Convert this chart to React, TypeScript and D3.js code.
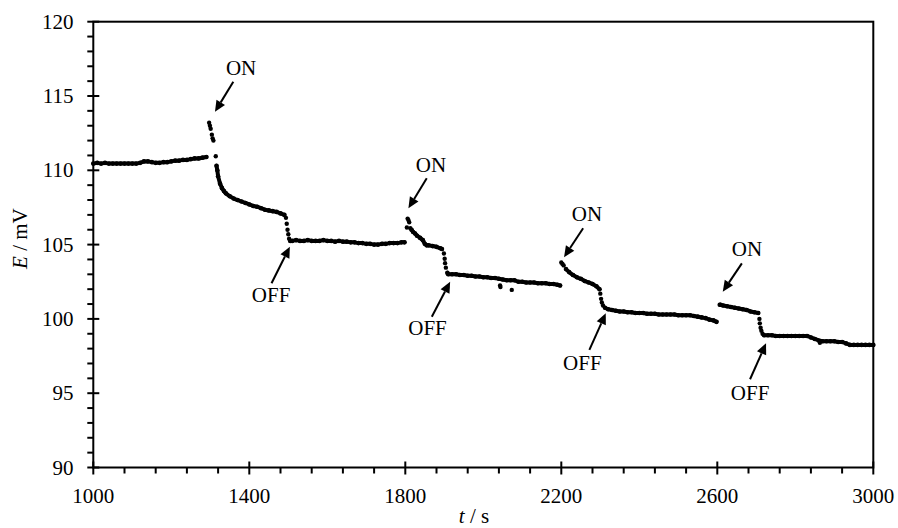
import React from "react";
import * as d3 from "d3";

// Dense measured segments [t (s), E (mV)]
const segA: [number, number][] = [
  [1000, 110.45], [1010, 110.5], [1020, 110.45], [1030, 110.5], [1040, 110.45], [1050, 110.45],
  [1060, 110.45], [1070, 110.45], [1080, 110.45], [1090, 110.45], [1100, 110.45], [1110, 110.45],
  [1120, 110.5], [1130, 110.6], [1140, 110.6], [1150, 110.55], [1160, 110.5], [1170, 110.5],
  [1180, 110.55], [1190, 110.55], [1200, 110.6], [1210, 110.65], [1220, 110.65], [1230, 110.7],
  [1240, 110.7], [1250, 110.75], [1260, 110.8], [1270, 110.8], [1280, 110.85], [1290, 110.9]
];
const segA2: [number, number][] = [
  [1316, 110.3], [1318, 110.0], [1320, 109.6], [1325, 109.1], [1330, 108.8], [1335, 108.6],
  [1340, 108.45], [1350, 108.25], [1360, 108.1], [1370, 108.0], [1380, 107.9], [1390, 107.8],
  [1400, 107.7], [1410, 107.6], [1420, 107.55], [1430, 107.45], [1440, 107.35], [1450, 107.3],
  [1460, 107.25], [1470, 107.2], [1480, 107.1], [1490, 107.0]
];
const segB: [number, number][] = [
  [1505, 105.25], [1510, 105.25], [1520, 105.3], [1530, 105.25], [1540, 105.25], [1550, 105.3],
  [1560, 105.25], [1570, 105.25], [1580, 105.25], [1590, 105.3], [1600, 105.25], [1610, 105.25],
  [1620, 105.2], [1630, 105.25], [1640, 105.2], [1650, 105.2], [1660, 105.15], [1670, 105.15],
  [1680, 105.1], [1690, 105.1], [1700, 105.05], [1710, 105.05], [1720, 105.0], [1730, 105.0],
  [1740, 105.05], [1750, 105.05], [1760, 105.1], [1770, 105.1], [1780, 105.1], [1790, 105.15],
  [1798, 105.15]
];
const segB2: [number, number][] = [
  [1816, 106.0], [1820, 105.85], [1825, 105.75], [1830, 105.6], [1838, 105.45], [1845, 105.3],
  [1850, 105.05], [1855, 104.95], [1860, 104.95], [1870, 104.9], [1880, 104.85], [1890, 104.75],
  [1894, 104.7]
];
const segC: [number, number][] = [
  [1908, 103.1], [1910, 103.0], [1920, 103.0], [1930, 103.0], [1940, 102.95], [1950, 102.95],
  [1960, 102.9], [1970, 102.9], [1980, 102.85], [1990, 102.85], [2000, 102.8], [2010, 102.8],
  [2020, 102.75], [2030, 102.75], [2040, 102.7], [2050, 102.65], [2060, 102.6], [2070, 102.6],
  [2080, 102.6], [2090, 102.5], [2100, 102.5], [2110, 102.45], [2120, 102.45], [2130, 102.45],
  [2140, 102.4], [2150, 102.4], [2160, 102.4], [2170, 102.35], [2180, 102.35], [2190, 102.3],
  [2197, 102.25]
];
const segC2: [number, number][] = [
  [2212, 103.35], [2220, 103.15], [2230, 102.95], [2240, 102.8], [2250, 102.7], [2260, 102.55],
  [2270, 102.45], [2280, 102.35], [2290, 102.2], [2298, 102.0]
];
const segD: [number, number][] = [
  [2312, 100.75], [2320, 100.65], [2330, 100.6], [2340, 100.55], [2350, 100.5], [2360, 100.5],
  [2370, 100.45], [2380, 100.45], [2390, 100.4], [2400, 100.4], [2410, 100.4], [2420, 100.35],
  [2430, 100.35], [2440, 100.35], [2450, 100.3], [2460, 100.3], [2470, 100.3], [2480, 100.3],
  [2490, 100.3], [2500, 100.25], [2510, 100.25], [2520, 100.25], [2530, 100.25], [2540, 100.2],
  [2550, 100.15], [2560, 100.1], [2570, 100.05], [2580, 99.95], [2590, 99.9], [2598, 99.8]
];
const segD2: [number, number][] = [
  [2608, 100.95], [2615, 100.9], [2625, 100.85], [2635, 100.8], [2645, 100.75], [2655, 100.7],
  [2665, 100.65], [2675, 100.6], [2685, 100.5], [2695, 100.45], [2705, 100.4]
];
const segE: [number, number][] = [
  [2720, 98.9], [2730, 98.9], [2740, 98.9], [2750, 98.85], [2760, 98.85], [2770, 98.85],
  [2780, 98.85], [2790, 98.85], [2800, 98.85], [2810, 98.85], [2820, 98.85], [2830, 98.85],
  [2840, 98.75], [2850, 98.65], [2860, 98.55], [2870, 98.5], [2880, 98.5], [2890, 98.5],
  [2900, 98.5], [2910, 98.45], [2920, 98.45], [2930, 98.35], [2940, 98.25], [2950, 98.25],
  [2960, 98.25], [2970, 98.25], [2980, 98.25], [2990, 98.25], [3000, 98.25]
];
// Sparse transient points (ON spikes, OFF drops, outliers)
const sparse: [number, number][] = [
  [1297, 113.2], [1299, 113.0], [1301, 112.8], [1304, 112.4], [1306, 112.15], [1308, 112.0],
  [1314, 110.95],
  [1494, 106.8], [1496, 106.4], [1498, 106.0], [1500, 105.7], [1502, 105.4],
  [1806, 106.75], [1808, 106.65], [1810, 106.5], [1804, 106.15], [1813, 106.1],
  [1899, 104.4], [1901, 104.05], [1902, 103.75], [1904, 103.45],
  [2043, 102.25], [2044, 102.15], [2073, 101.95],
  [2200, 103.8], [2203, 103.7], [2206, 103.6],
  [2300, 101.7], [2302, 101.35], [2304, 101.1], [2307, 100.9],
  [2606, 100.95],
  [2708, 100.0], [2709, 99.7], [2711, 99.4], [2713, 99.2], [2716, 99.0],
  [2863, 98.4]
];
const segments = [segA, segA2, segB, segB2, segC, segC2, segD, segD2, segE];

const xMajor = [1000, 1400, 1800, 2200, 2600, 3000];
const yMajor = [90, 95, 100, 105, 110, 115, 120];

// Annotations
const annLabels = ["ON", "ON", "ON", "ON", "OFF", "OFF", "OFF", "OFF"];
const annText: [number, number][] = [
  [1379, 116.41], [1866, 109.89], [2266, 106.59], [2676, 104.23],
  [1456, 101.14], [1857, 98.92], [2254, 96.56], [2684, 94.54]
];
const annFrom: [number, number][] = [
  [1359, 115.96], [1855, 109.46], [2256, 106.1], [2663, 103.74],
  [1457, 102.4], [1868, 100.15], [2272, 97.91], [2684, 95.94]
];
const annTo: [number, number][] = [
  [1312, 113.94], [1808, 107.44], [2207, 104.15], [2614, 101.83],
  [1504, 104.86], [1915, 102.5], [2314, 100.38], [2725, 98.36]
];

const W = 898, H = 528;
const L = 93.3, R = 873.3, T = 21.7, B = 467.5;
const FONT = "'Times New Roman', 'Liberation Serif', serif";

export default function App() {
  const x = d3.scaleLinear().domain([1000, 3000]).range([L, R]);
  const y = d3.scaleLinear().domain([90, 120]).range([B, T]);
  const line = d3.line<[number, number]>().x(d => x(d[0])).y(d => y(d[1]));
  const xMinor = d3.range(1000, 3001, 80).filter(v => !xMajor.includes(v));
  const yMinor = d3.range(90, 121, 1).filter(v => !yMajor.includes(v));

  const arrow = (i: number) => {
    const x1 = x(annFrom[i][0]), y1 = y(annFrom[i][1]);
    const x2 = x(annTo[i][0]), y2 = y(annTo[i][1]);
    const ang = Math.atan2(y2 - y1, x2 - x1);
    const hl = 11, hw = 5;
    const bx = x2 - hl * Math.cos(ang), by = y2 - hl * Math.sin(ang);
    const px = -Math.sin(ang) * hw, py = Math.cos(ang) * hw;
    return (
      <g key={"a" + i}>
        <line x1={x1} y1={y1} x2={bx} y2={by} stroke="#000" strokeWidth={2} />
        <path d={`M${x2},${y2}L${bx + px},${by + py}L${bx - px},${by - py}Z`} fill="#000" />
      </g>
    );
  };

  return (
    <svg width={W} height={H} style={{ position: "absolute", left: 0, top: 0, background: "#fff" }}>
      <rect width={W} height={H} fill="#fff" />
      {segments.map((s, i) => (
        <path key={"s" + i} d={line(s) || ""} fill="none" stroke="#000" strokeWidth={4} strokeLinecap="round" strokeLinejoin="round" />
      ))}
      {segments.flat().map((d, i) => (
        <circle key={"c" + i} cx={x(d[0])} cy={y(d[1])} r={2.3} fill="#000" />
      ))}
      {sparse.map((d, i) => (
        <circle key={"p" + i} cx={x(d[0])} cy={y(d[1])} r={2.2} fill="#000" />
      ))}
      <rect x={L} y={T} width={R - L} height={B - T} fill="none" stroke="#000" strokeWidth={2} />
      {yMajor.map(v => (
        <g key={"ym" + v}>
          <line x1={L - 6} x2={L + 6} y1={y(v)} y2={y(v)} stroke="#000" strokeWidth={2} />
          <text x={73.5} y={y(v)} dy="0.34em" textAnchor="end" fontFamily={FONT} fontSize={21}>{v}</text>
        </g>
      ))}
      {yMinor.map(v => (
        <line key={"yn" + v} x1={L - 6} x2={L} y1={y(v)} y2={y(v)} stroke="#000" strokeWidth={2} />
      ))}
      {xMajor.map(v => (
        <g key={"xm" + v}>
          <line x1={x(v)} x2={x(v)} y1={B - 6} y2={B + 7} stroke="#000" strokeWidth={2} />
          <text x={x(v)} y={503} textAnchor="middle" fontFamily={FONT} fontSize={21}>{v}</text>
        </g>
      ))}
      {xMinor.map(v => (
        <line key={"xn" + v} x1={x(v)} x2={x(v)} y1={B} y2={B + 6} stroke="#000" strokeWidth={2} />
      ))}
      <text transform={`translate(27,${(T + B) / 2 - 6}) rotate(-90)`} textAnchor="middle" fontFamily={FONT} fontSize={21}>
        <tspan fontStyle="italic">E</tspan> / mV
      </text>
      <text x={474} y={523} textAnchor="middle" fontFamily={FONT} fontSize={21}>
        <tspan fontStyle="italic">t</tspan> / s
      </text>
      {annLabels.map((lab, i) => (
        <g key={"t" + i}>
          <text x={x(annText[i][0])} y={y(annText[i][1])} textAnchor="middle" fontFamily={FONT} fontSize={21}>{lab}</text>
          {arrow(i)}
        </g>
      ))}
    </svg>
  );
}
